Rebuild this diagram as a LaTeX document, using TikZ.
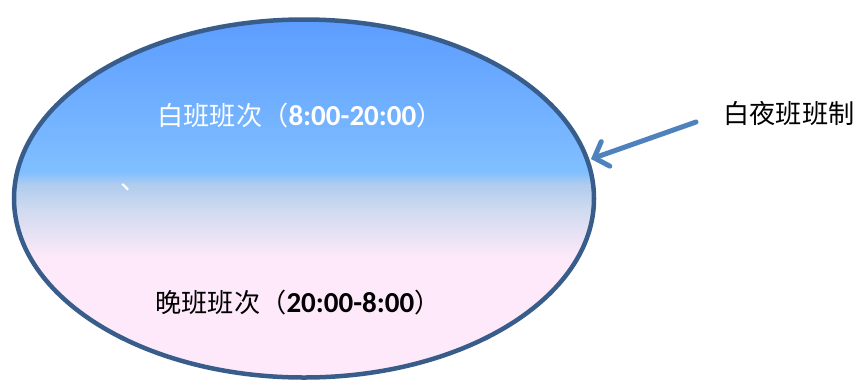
\documentclass[tikz,border=0pt]{standalone}
\usepackage{fontspec}
\setmainfont{Carlito}
\newfontfamily\cjk{Noto Sans CJK SC}
\usetikzlibrary{arrows.meta,shapes.geometric}
\definecolor{topblue}{RGB}{91,155,255}
\definecolor{midblue}{RGB}{128,191,255}
\definecolor{mixa}{RGB}{176,204,238}
\definecolor{mixb}{RGB}{208,218,240}
\definecolor{pinkbg}{RGB}{253,233,249}
\definecolor{rimblue}{RGB}{56,93,138}
\definecolor{arrowblue}{RGB}{79,129,189}
\newcommand{\cjkpart}[1]{{\fontsize{26.2}{30}\selectfont\cjk #1}}
\newcommand{\numpart}[1]{{\fontsize{29}{33}\selectfont\bfseries #1}}
\tikzset{
  txt/.style={inner sep=0pt, anchor=center},
  rim/.style={ellipse, draw=rimblue, line width=4.5pt, minimum width=580pt, minimum height=358pt, inner sep=0pt},
  pointer/.style={draw=arrowblue, line width=5pt, line cap=round, line join=round,
    -{Straight Barb[length=12pt,width=26pt,line cap=round]}}
}
\begin{document}
\begin{tikzpicture}[x=1pt,y=-1pt]
\useasboundingbox (0,0) rectangle (861,381);
\begin{scope}
  \clip (304,198.5) ellipse [x radius=290, y radius=179];
  \shade[top color=topblue, bottom color=midblue] (0,15) rectangle (861,172);
  \shade[top color=midblue, bottom color=mixa] (0,171.5) rectangle (861,185);
  \shade[top color=mixa, bottom color=mixb] (0,184.5) rectangle (861,210);
  \shade[top color=mixb, bottom color=pinkbg] (0,209.5) rectangle (861,257);
  \fill[pinkbg] (0,256.5) rectangle (861,381);
\end{scope}
\node[rim] (shift) at (304,198.5) {};
\node[txt, text=white] (day) at (300,116) {\cjkpart{白班班次（}\numpart{8:00-20:00}\cjkpart{）}};
\node[txt, text=black] (night) at (298,303) {\cjkpart{晚班班次（}\numpart{20:00-8:00}\cjkpart{）}};
\node[txt, text=white] (mark) at (134,187) {\cjkpart{、}};
\node[txt, text=black] (label) at (789,113) {\cjkpart{白夜班班制}};
\coordinate (tail) at (696,122);
\coordinate (tip) at (591,159);
\draw[pointer] (tail) -- (tip);
\end{tikzpicture}
\end{document}
